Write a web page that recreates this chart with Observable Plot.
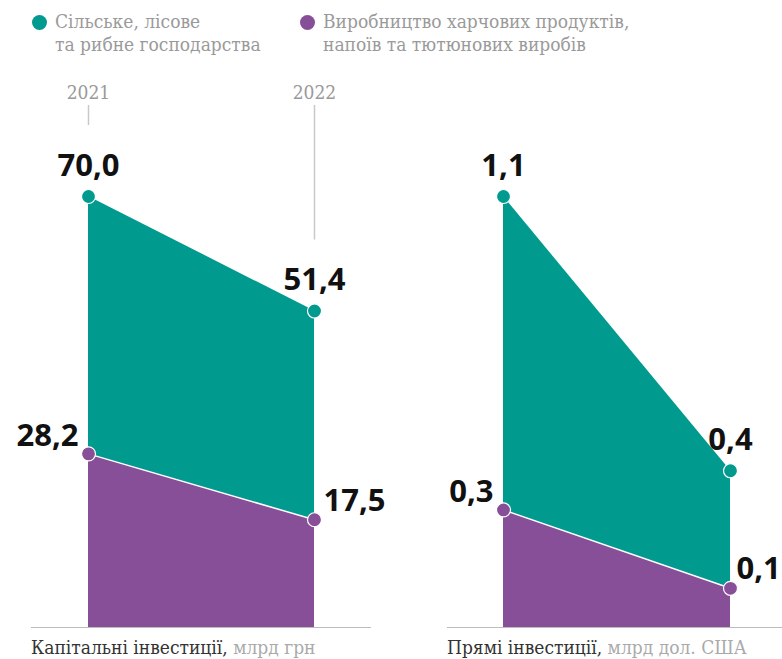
<!DOCTYPE html>
<html>
<head>
<meta charset="utf-8">
<script src="https://cdn.jsdelivr.net/npm/d3@7"></script>
<script src="https://cdn.jsdelivr.net/npm/@observablehq/plot@0.6"></script>
<style>
  html, body { margin: 0; padding: 0; background: #fff; }
  #wrap { position: relative; width: 782px; height: 659px; overflow: hidden; }
  .panel { position: absolute; top: 0; }
  .legend-item { position: absolute; top: 10px; font-family: "DejaVu Serif Condensed", "DejaVu Serif", serif; font-stretch: condensed; font-size: 19px; line-height: 23px; color: #9a9a9a; white-space: pre; }
  .legend-dot { position: absolute; width: 15px; height: 15px; border-radius: 50%; top: 15px; }
  .caption { position: absolute; top: 636px; font-family: "DejaVu Serif Condensed", "DejaVu Serif", serif; font-stretch: condensed; font-size: 19px; color: #333; white-space: pre; }
  .caption .unit { color: #aaa; }
</style>
</head>
<body>
<div id="wrap"></div>
<script>
// ---- data ----
const years = [2021, 2022];
const agriCapital = [70.0, 51.4];   // Сільське, лісове та рибне господарства, капітальні інвестиції
const foodCapital = [28.2, 17.5];   // Виробництво харчових продуктів..., капітальні інвестиції
const agriFDI = [1.1, 0.4];         // прямі інвестиції
const foodFDI = [0.3, 0.1];
const seriesNames = ["Сільське, лісове\nта рибне господарства", "Виробництво харчових продуктів,\nнапоїв та тютюнових виробів"];
const panelTitles = ["Капітальні інвестиції,", "Прямі інвестиції,"];
const panelUnits = ["млрд грн", "млрд дол. США"];
const colors = ["#009a8f", "#874f97"];

const fmt = v => v.toFixed(1).replace(".", ",");
const labelFont = "'Open Sans', sans-serif";
const serifFont = "'DejaVu Serif Condensed', 'DejaVu Serif', serif";
const wrap = document.getElementById("wrap");

function panel(agri, food, opts) {
  const yMax = d3.max(agri);
  const rows = years.map((year, i) => ({year, agri: agri[i], food: food[i]}));
  const marks = [
    Plot.areaY(rows, {x: "year", y: "agri", fill: colors[0]}),
    Plot.areaY(rows, {x: "year", y: "food", fill: colors[1]}),
    Plot.lineY(rows, {x: "year", y: "food", stroke: "white", strokeWidth: 1.5}),
    Plot.ruleY([0], {stroke: "#bdbdbd", strokeWidth: 1.2})
  ];
  if (opts.yearLabels) {
    marks.push(
      // guide lines from the year label down to just above each value label
      Plot.ruleX(rows, {x: "year", y1: "agri", y2: () => yMax, insetTop: -71, insetBottom: 91, stroke: "#c8c8c8", strokeWidth: 1.5}),
      Plot.text(rows, {x: "year", text: d => String(d.year), frameAnchor: "top", lineAnchor: "bottom", dy: -7,
        fill: "#9a9a9a", fontSize: 19, fontFamily: serifFont, fontStretch: "condensed"})
    );
  }
  marks.push(
    Plot.dot(rows, {x: "year", y: "agri", r: 7, fill: colors[0], stroke: "white", strokeWidth: 1.2}),
    Plot.dot(rows, {x: "year", y: "food", r: 7, fill: colors[1], stroke: "white", strokeWidth: 1.2}),
    Plot.text(rows, {x: "year", y: "agri", text: d => fmt(d.agri), lineAnchor: "bottom", dy: -21,
      fontSize: 31, fontWeight: 700, fontFamily: labelFont, fill: "#111"}),
    Plot.text(rows.filter(d => d.year === years[0]), {x: "year", y: "food", text: d => fmt(d.food), textAnchor: "end", lineAnchor: "bottom", dx: -10, dy: -8,
      fontSize: 31, fontWeight: 700, fontFamily: labelFont, fill: "#111"}),
    Plot.text(rows.filter(d => d.year === years[1]), {x: "year", y: "food", text: d => fmt(d.food), textAnchor: "start", lineAnchor: "bottom", dx: opts.endDx, dy: -9,
      fontSize: 31, fontWeight: 700, fontFamily: labelFont, fill: "#111"})
  );
  const svg = Plot.plot({
    width: 391,
    height: 659,
    marginTop: 105,
    marginBottom: 32,
    marginLeft: opts.marginLeft,
    marginRight: opts.marginRight,
    x: {domain: years, type: "linear", insetLeft: opts.insetLeft, insetRight: opts.insetRight, axis: null},
    y: {domain: [0, yMax], insetTop: 91, axis: null},
    style: {overflow: "visible", background: "transparent"},
    marks
  });
  svg.classList.add("panel");
  svg.style.left = opts.left + "px";
  return svg;
}

wrap.appendChild(panel(agriCapital, foodCapital, {left: 0, marginLeft: 31, marginRight: 20, insetLeft: 57, insetRight: 57, endDx: 9, yearLabels: true}));
wrap.appendChild(panel(agriFDI, foodFDI, {left: 391, marginLeft: 56, marginRight: 0, insetLeft: 56, insetRight: 52, endDx: 6, yearLabels: false}));

// legend
const legendX = [55, 323];
seriesNames.forEach((name, i) => {
  const dot = document.createElement("div");
  dot.className = "legend-dot";
  dot.style.left = (legendX[i] - 23) + "px";
  dot.style.background = colors[i];
  wrap.appendChild(dot);
  const t = document.createElement("div");
  t.className = "legend-item";
  t.style.left = legendX[i] + "px";
  t.textContent = name;
  wrap.appendChild(t);
});

// captions
const captionX = [31, 447];
panelTitles.forEach((title, i) => {
  const c = document.createElement("div");
  c.className = "caption";
  c.style.left = captionX[i] + "px";
  c.append(title + " ");
  const u = document.createElement("span");
  u.className = "unit";
  u.textContent = panelUnits[i];
  c.appendChild(u);
  wrap.appendChild(c);
});
</script>
</body>
</html>
